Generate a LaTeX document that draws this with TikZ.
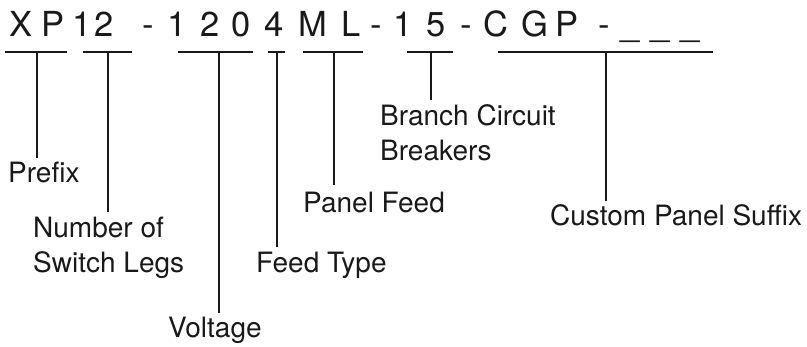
\documentclass[tikz,border=0pt]{standalone}
\usepackage{fontspec}
\setmainfont{TeX Gyre Heros}
\begin{document}
\begin{tikzpicture}[x=1pt,y=-1pt,
  code/.style={anchor=base,inner sep=0pt,font=\fontsize{34.5}{40}\selectfont,text=black!90},
  lbl/.style={anchor=base west,inner sep=0pt,align=left,font=\fontsize{28}{35}\selectfont,text=black!90},
  bar/.style={line width=2.8pt,black!90},
  stem/.style={line width=2.4pt,black!90}]
\useasboundingbox (0,0) rectangle (807,346);
% code characters
\foreach \c/\x [count=\i] in {X/21.5,P/53.5,1/82.5,2/104.5,-/148,1/177,2/210,0/241,4/274,M/312.5,L/351.5,-/376.5,1/403,5/436.5,-/466,C/495.5,G/535,P/567.5,-/604,\_/630,\_/660,\_/690}
  \node[code] (t\i) at (\x,36) {\c};
% labels (base = last line)
\node[lbl] (prefix)  at (8,182)   {Prefix};
\node[lbl] (legs)    at (33,272)  {Number of\\Switch Legs};
\node[lbl] (volt)    at (168,337) {Voltage};
\node[lbl] (ftype)   at (256,272) {Feed Type};
\node[lbl] (pfeed)   at (303,212) {Panel Feed};
\node[lbl] (branch)  at (380,160) {Branch Circuit\\Breakers};
\node[lbl] (suffix)  at (550,225) {Custom Panel Suffix};
% bars
\coordinate (b1l) at (5,52);   \coordinate (b1r) at (67,52);  \coordinate (b1) at (37,52);
\coordinate (b2l) at (83,52);  \coordinate (b2r) at (132,52); \coordinate (b2) at (108,52);
\coordinate (b3l) at (178,52); \coordinate (b3r) at (253,52); \coordinate (b3) at (219,52);
\coordinate (b4l) at (268,52); \coordinate (b4r) at (285,52); \coordinate (b4) at (277,52);
\coordinate (b5l) at (303,52); \coordinate (b5r) at (363,52); \coordinate (b5) at (334,52);
\coordinate (b6l) at (407,52); \coordinate (b6r) at (453,52); \coordinate (b6) at (431,52);
\coordinate (b7l) at (498,52); \coordinate (b7r) at (713,52); \coordinate (b7) at (606,52);
% stem ends
\coordinate (e1) at (37,158);
\coordinate (e2) at (108,212);
\coordinate (e3) at (219,313);
\coordinate (e4) at (277,247);
\coordinate (e5) at (334,185);
\coordinate (e6) at (431,100);
\coordinate (e7) at (606,201);
\foreach \k in {1,...,7}{
  \draw[bar] (b\k l) -- (b\k r);
  \draw[stem] (b\k) -- (e\k);
}
\end{tikzpicture}
\end{document}
